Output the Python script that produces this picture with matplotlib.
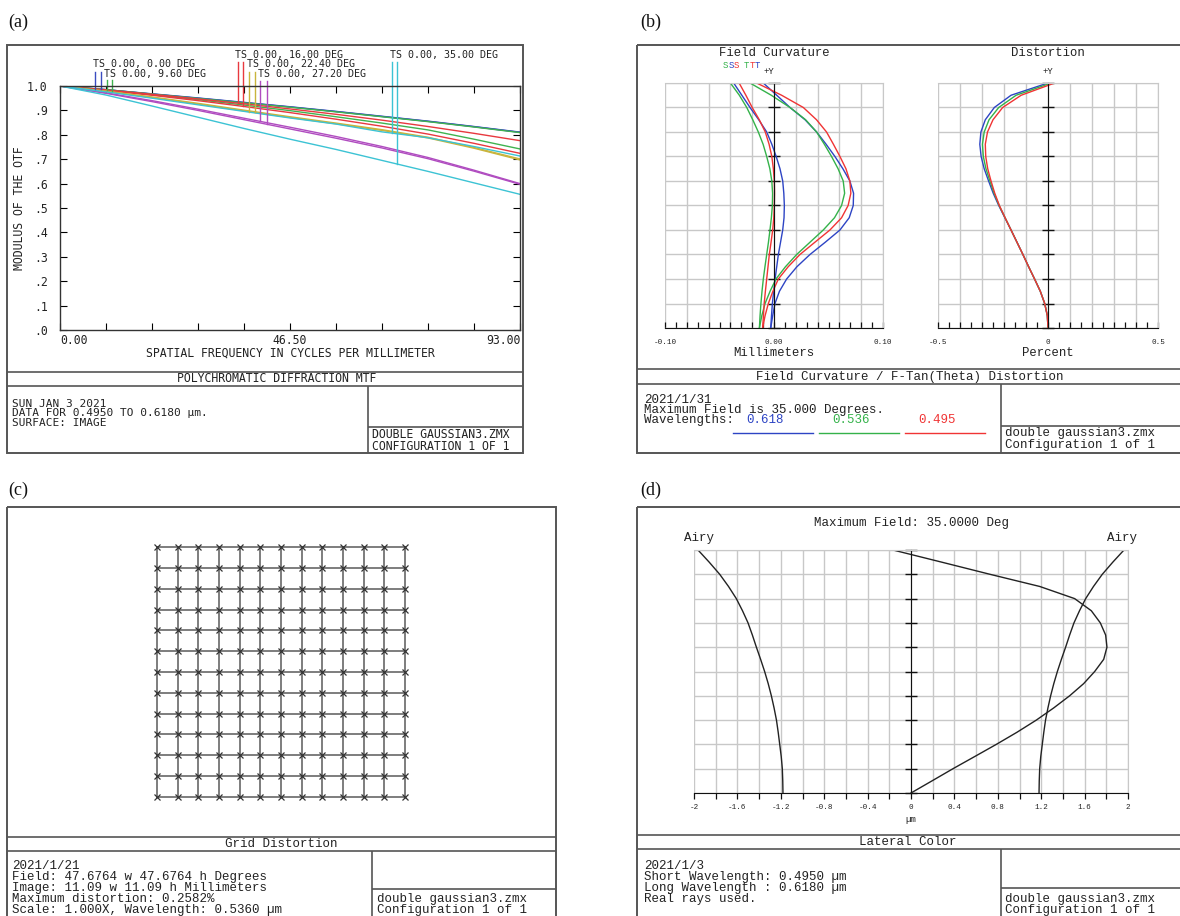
import matplotlib
matplotlib.use('Agg')
import matplotlib.pyplot as plt
import numpy as np
from matplotlib.patches import Rectangle

W, H = 1180, 916
STROKE = 'DejaVu Sans Mono'
COURIER = 'Liberation Mono'
SERIF = 'Liberation Serif'
INK = '#222222'
FRAME = '#555555'
GRID = '#c8c8c8'

# ---- (a) polychromatic diffraction MTF ----
MTF_FREQ = [0.0, 9.3, 18.6, 27.9, 37.2, 46.5, 55.8, 65.1, 74.4, 83.7, 93.0]
MTF_FIELDS = ['0.00', '9.60', '16.00', '22.40', '27.20', '35.00']
MTF_T = [
    [1.0, .985, .967, .950, .932, .914, .895, .875, .855, .833, .810],
    [1.0, .985, .967, .949, .931, .913, .894, .874, .854, .832, .809],
    [1.0, .984, .966, .947, .927, .906, .884, .860, .834, .806, .776],
    [1.0, .978, .953, .926, .898, .871, .845, .818, .787, .745, .697],
    [1.0, .972, .940, .905, .868, .831, .793, .752, .707, .655, .600],
    [1.0, .976, .950, .923, .896, .869, .844, .812, .788, .752, .713],
]
MTF_S = [
    [1.0, .985, .968, .951, .933, .915, .896, .876, .856, .834, .811],
    [1.0, .983, .964, .944, .922, .899, .874, .848, .820, .782, .742],
    [1.0, .982, .962, .940, .916, .891, .864, .835, .803, .765, .724],
    [1.0, .979, .955, .929, .901, .874, .848, .821, .790, .748, .701],
    [1.0, .970, .936, .900, .862, .824, .786, .746, .702, .651, .597],
    [1.0, .963, .918, .872, .826, .782, .740, .695, .650, .603, .556],
]
MTF_COLORS = ['#3a4cc0', '#3fb34f', '#e8393f', '#c9b43c', '#b04cc0', '#3cc3d4']

# ---- (b) field curvature / distortion ----
FC_FIELD = [0.0, .05, .1, .15, .2, .25, .3, .35, .4, .45, .5,
            .55, .6, .65, .7, .75, .8, .85, .9, .95, 1.0]
FC_T = {
    'blue': [-.0030, -.0012, .0009, .0050, .0116, .0210, .0330, .0470, .0605, .0690, .0727,
             .0730, .0696, .0632, .0559, .0478, .0391, .0285, .0147, .0025, -.0098],
    'green': [-.0134, -.0112, -.0082, -.0036, .0018, .0105, .0208, .0330, .0452, .0555, .0620,
              .0648, .0635, .0588, .0528, .0462, .0391, .0290, .0147, -.0025, -.0220],
    'red': [-.0104, -.0082, -.0052, -.0010, .0040, .0130, .0238, .0375, .0513, .0620, .0680,
            .0705, .0696, .0660, .0605, .0545, .0482, .0390, .0269, .0070, -.0159],
}
FC_S = {
    'blue': [-.0030, -.0023, -.0015, -.0003, .0010, .0025, .0040, .0060, .0080, .0092, .0095,
             .0090, .0080, .0055, .0020, -.0020, -.0067, -.0140, -.0220, -.0295, -.0370],
    'green': [-.0134, -.0128, -.0120, -.0110, -.0098, -.0083, -.0067, -.0051, -.0037, -.0024, -.0015,
              -.0013, -.0020, -.0038, -.0067, -.0100, -.0144, -.0195, -.0250, -.0318, -.0400],
    'red': [-.0104, -.0097, -.0090, -.0079, -.0067, -.0055, -.0043, -.0027, -.0012, -.0002, .0003,
            .0005, .0003, -.0006, -.0020, -.0045, -.0080, -.0135, -.0200, -.0258, -.0320],
}
DIST = {
    'blue': [0.0, -.003, -.015, -.035, -.061, -.088, -.114, -.141, -.168, -.196, -.224,
             -.249, -.270, -.290, -.304, -.310, -.305, -.285, -.244, -.168, 0.0],
    'green': [0.0, -.003, -.015, -.035, -.061, -.088, -.114, -.141, -.168, -.195, -.222,
              -.245, -.264, -.282, -.294, -.298, -.290, -.268, -.224, -.145, .015],
    'red': [0.0, -.003, -.015, -.035, -.061, -.088, -.114, -.141, -.168, -.195, -.221,
            -.242, -.259, -.274, -.283, -.285, -.275, -.250, -.206, -.122, .030],
}
WAVE_KEYS = ['blue', 'green', 'red']
WAVE_LABELS = ['0.618', '0.536', '0.495']
WAVE_COLORS = {'blue': '#2d44c4', 'green': '#34b24a', 'red': '#f03434'}

# ---- (c) grid distortion ----
GRID_POS = [-6, -5, -4, -3, -2, -1, 0, 1, 2, 3, 4, 5, 6]

# ---- (d) lateral color ----
LC_FIELD = [0.0, .05, .1, .15, .2, .25, .3, .35, .4, .45, .5,
            .55, .6, .65, .7, .75, .8, .85, .9, .95, 1.0]
LC_SHIFT = [0.0, .194, .387, .587, .786, .977, 1.155, 1.315, 1.462, 1.591, 1.693,
            1.776, 1.806, 1.794, 1.745, 1.662, 1.508, 1.186, .728, .283, -.166]
LC_AIRY = [1.180, 1.182, 1.186, 1.196, 1.210, 1.224, 1.240, 1.262, 1.287, 1.316, 1.349,
           1.386, 1.425, 1.462, 1.502, 1.553, 1.610, 1.682, 1.763, 1.860, 1.963]


def px_axes(fig, left, top, right, bottom):
    return fig.add_axes([left / W, 1 - bottom / H, (right - left) / W, (bottom - top) / H])


fig = plt.figure(figsize=(W / 100, H / 100), dpi=100)
ov = fig.add_axes([0, 0, 1, 1])
ov.set_xlim(0, W)
ov.set_ylim(H, 0)
ov.axis('off')


def put(x, y, s, size=9.0, family=COURIER, ha='left', color=INK, **kw):
    ov.text(x, y, s, fontsize=size, family=family, ha=ha, va='center', color=color, **kw)


def hline(y, x0, x1):
    ov.plot([x0, x1], [y, y], color=FRAME, lw=1.2, solid_capstyle='butt')


def vline(x, y0, y1):
    ov.plot([x, x], [y0, y1], color=FRAME, lw=1.2, solid_capstyle='butt')


def panel_frame(x0, y0, x1, y1, sep, divider, rbox):
    ov.add_patch(Rectangle((x0, y0), x1 - x0, y1 - y0, fill=False, ec=FRAME, lw=1.4))
    hline(sep[0], x0, x1)
    hline(sep[1], x0, x1)
    vline(divider, sep[1], y1)
    hline(rbox, divider, x1)


# panel letters
for lx, ly, s in [(8, 22, '(a)'), (640, 22, '(b)'), (8, 490, '(c)'), (640, 490, '(d)')]:
    put(lx, ly, s, size=13, family=SERIF, color='#111111')

# ================= (a) =================
panel_frame(7, 45, 523, 453, (372, 386), 368, 427)
ax = px_axes(fig, 60, 86, 520, 330)
ax.set_xlim(0, 93)
ax.set_ylim(0, 1)
for t, s, c in zip(MTF_T, MTF_S, MTF_COLORS):
    ax.plot(MTF_FREQ, s, color=c, lw=1.0)
    ax.plot(MTF_FREQ, t, color=c, lw=1.0)
ax.set_xticks(np.arange(11) * 9.3)
ax.set_xticklabels([])
ax.set_yticks(np.arange(11) / 10)
ax.set_yticklabels(['.0', '.1', '.2', '.3', '.4', '.5', '.6', '.7', '.8', '.9', '1.0'],
                   family=STROKE, fontsize=8.3, color=INK)
ax.tick_params(direction='in', length=5, width=0.8, top=True, right=True, pad=9)
for sp in ax.spines.values():
    sp.set_linewidth(1.0)
    sp.set_color('#333333')

# field flags: label text and two leader lines (T, S) down to the curves
flag_freq = [(7.1, 8.3), (9.5, 10.6), (35.9, 37.0), (38.2, 39.4), (40.4, 41.8), (67.1, 68.1)]
flag_top = [72, 80, 62, 72, 81, 62]
flag_text = [(93, 64), (104, 74), (235, 55), (247, 64), (258, 74), (390, 55)]
for i, name in enumerate(MTF_FIELDS):
    for f, curve in zip(flag_freq[i], (MTF_T[i], MTF_S[i])):
        y_end = np.interp(f, MTF_FREQ, curve)
        y_top = 1 + (86 - flag_top[i]) / 244
        ax.plot([f, f], [y_end, y_top], color=MTF_COLORS[i], lw=1.0, clip_on=False)
    put(flag_text[i][0], flag_text[i][1], 'TS 0.00, %s DEG' % name, size=7.2, family=STROKE)

put(60, 341, '0.00', size=8.3, family=STROKE)
put(290, 341, '46.50', size=8.3, family=STROKE, ha='center')
put(521, 341, '93.00', size=8.3, family=STROKE, ha='right')
put(290, 353, 'SPATIAL FREQUENCY IN CYCLES PER MILLIMETER', size=8.3, family=STROKE, ha='center')
ov.text(20, 208, 'MODULUS OF THE OTF', fontsize=8.3, family=STROKE, ha='center', va='center',
        rotation=90, color=INK)
put(277, 379, 'POLYCHROMATIC DIFFRACTION MTF', size=8.3, family=STROKE, ha='center')
put(12, 404, 'SUN JAN 3 2021', size=8, family=STROKE)
put(12, 413.5, 'DATA FOR 0.4950 TO 0.6180 \u00b5m.', size=8, family=STROKE)
put(12, 423, 'SURFACE: IMAGE', size=8, family=STROKE)
put(372, 434, 'DOUBLE GAUSSIAN3.ZMX', size=8.3, family=STROKE)
put(372, 446, 'CONFIGURATION 1 OF 1', size=8.3, family=STROKE)


def zemax_axes(ax, xmin, xmax, ngrid, labels, minor=None, tick_dir='in', pad=8):
    ax.set_xlim(xmin, xmax)
    ax.set_ylim(0, 1)
    ax.set_xticks(np.linspace(xmin, xmax, ngrid + 1))
    ax.set_xticklabels(labels, family=COURIER, fontsize=5.5, color=INK)
    if minor:
        ax.set_xticks(np.linspace(xmin, xmax, minor + 1), minor=True)
    ax.set_yticks(np.arange(11) / 10)
    ax.set_yticklabels([])
    ax.grid(True, which='major', color=GRID, lw=1.0)
    ax.set_axisbelow(True)
    ax.spines['left'].set_position(('data', 0))
    ax.spines['left'].set_color('#111111')
    ax.spines['bottom'].set_color('#111111')
    for side in ('top', 'right'):
        ax.spines[side].set_color(GRID)
    ax.tick_params(axis='y', direction='inout', length=9, width=1.0, color='#111111')
    ax.tick_params(axis='x', which='both', direction=tick_dir, length=4, width=0.9,
                   color='#111111', pad=pad)


# ================= (b) =================
panel_frame(637, 45, 1190, 453, (369, 384), 1001, 426)

ax = px_axes(fig, 665, 83, 883, 328)
zemax_axes(ax, -0.1, 0.1, 10, ['-0.10', '', '', '', '', '0.00', '', '', '', '', '0.10'], minor=20)
for k in WAVE_KEYS:
    ax.plot(FC_S[k], FC_FIELD, color=WAVE_COLORS[k], lw=1.0)
    ax.plot(FC_T[k], FC_FIELD, color=WAVE_COLORS[k], lw=1.0)

ax = px_axes(fig, 938, 83, 1158, 328)
zemax_axes(ax, -0.5, 0.5, 10, ['-0.5', '', '', '', '', '0', '', '', '', '', '0.5'], minor=20)
for k in WAVE_KEYS:
    ax.plot(DIST[k], FC_FIELD, color=WAVE_COLORS[k], lw=1.0)

put(774, 53, 'Field Curvature', size=8.8, ha='center')
put(1048, 53, 'Distortion', size=8.8, ha='center')
put(774, 353, 'Millimeters', size=8.8, ha='center')
put(1048, 353, 'Percent', size=8.8, ha='center')
put(769, 72, '+Y', size=6.5, ha='center')
put(1048, 72, '+Y', size=6.5, ha='center')
for i, k in enumerate(('green', 'blue', 'red')):
    put(723 + 5.2 * i, 66, 'S', size=6.5, color=WAVE_COLORS[k])
for i, k in enumerate(('green', 'red', 'blue')):
    put(744 + 5.6 * i, 66, 'T', size=6.5, color=WAVE_COLORS[k])

put(910, 377, 'Field Curvature / F-Tan(Theta) Distortion', ha='center')
put(644, 400, '2021/1/31')
put(644, 410, 'Maximum Field is 35.000 Degrees.')
put(644, 420, 'Wavelengths:')
for i, (k, lab) in enumerate(zip(WAVE_KEYS, WAVE_LABELS)):
    put(746 + 86 * i, 420, lab, color=WAVE_COLORS[k])
    ov.plot([733 + 86 * i, 813 + 86 * i], [433, 433], color=WAVE_COLORS[k], lw=1.0)
put(1005, 433, 'double gaussian3.zmx')
put(1005, 445, 'Configuration 1 of 1')

# ================= (c) =================
panel_frame(7, 507, 556, 930, (837, 851), 372, 889)
ax = px_axes(fig, 157 - 10.33, 547 - 10.33, 405 + 10.33, 797 + 10.33)
ax.set_xlim(-6.5, 6.5)
ax.set_ylim(-6.5, 6.5)
ax.axis('off')
gx, gy = np.meshgrid(GRID_POS, GRID_POS)
ax.plot(gx, gy, color='#7d7d7d', lw=1.4)
ax.plot(gx.T, gy.T, color='#7d7d7d', lw=1.4)
ax.plot(gx.ravel(), gy.ravel(), 'x', color='#333333', ms=4.5, mew=0.9)

put(281, 844, 'Grid Distortion', ha='center')
put(12, 866, '2021/1/21')
put(12, 877, 'Field: 47.6764 w 47.6764 h Degrees')
put(12, 888, 'Image: 11.09 w 11.09 h Millimeters')
put(12, 899, 'Maximum distortion: 0.2582%')
put(12, 910, 'Scale: 1.000X, Wavelength: 0.5360 \u00b5m')
put(377, 899, 'double gaussian3.zmx')
put(377, 910, 'Configuration 1 of 1')

# ================= (d) =================
panel_frame(637, 507, 1190, 930, (835, 849), 1001, 888)
ax = px_axes(fig, 694, 550, 1128, 793)
lc_labels = ['-2', '', '-1.6', '', '-1.2', '', '-0.8', '', '-0.4', '', '0',
             '', '0.4', '', '0.8', '', '1.2', '', '1.6', '', '2']
zemax_axes(ax, -2, 2, 20, lc_labels, tick_dir='out', pad=4)
ax.plot(LC_SHIFT, LC_FIELD, color='#222222', lw=1.0)
ax.plot(LC_AIRY, LC_FIELD, color='#222222', lw=1.0)
ax.plot(-np.array(LC_AIRY), LC_FIELD, color='#222222', lw=1.0)

put(912, 523, 'Maximum Field: 35.0000 Deg', ha='center')
put(699, 538, 'Airy', ha='center')
put(1122, 538, 'Airy', ha='center')
put(911, 819, '\u00b5m', size=6.5, ha='center')
put(908, 842, 'Lateral Color', ha='center')
put(644, 866, '2021/1/3')
put(644, 877, 'Short Wavelength: 0.4950 \u00b5m')
put(644, 888, 'Long Wavelength : 0.6180 \u00b5m')
put(644, 899, 'Real rays used.')
put(1005, 899, 'double gaussian3.zmx')
put(1005, 910, 'Configuration 1 of 1')

fig.savefig('out.png', dpi=100)
